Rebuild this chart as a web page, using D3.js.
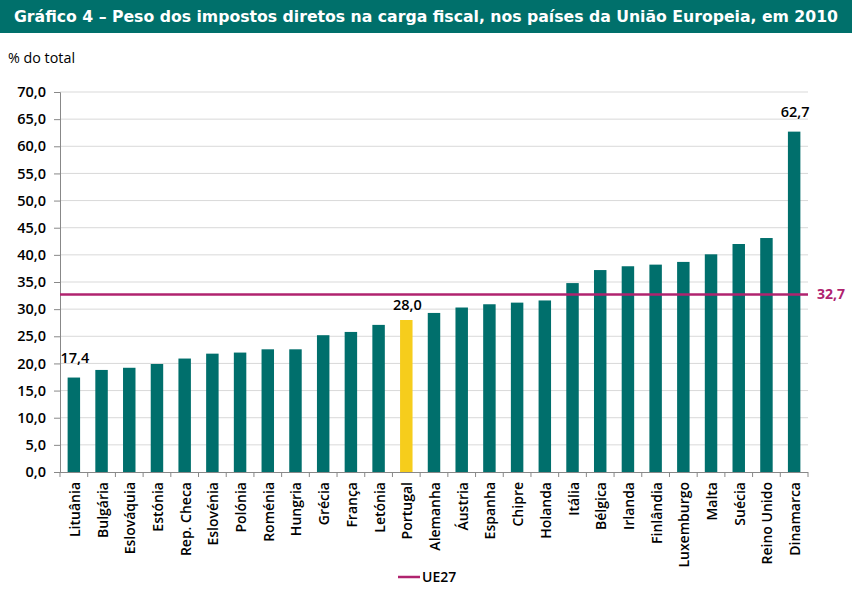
<!DOCTYPE html>
<html><head><meta charset="utf-8">
<script src="https://cdn.jsdelivr.net/npm/d3@7"></script>
<style>body{margin:0;background:#fff}svg{display:block}</style>
</head><body><svg id="c" width="852" height="604"></svg>
<script>
const countries = ["Lituânia","Bulgária","Eslováquia","Estónia","Rep. Checa","Eslovénia","Polónia","Roménia","Hungria","Grécia","França","Letónia","Portugal","Alemanha","Áustria","Espanha","Chipre","Holanda","Itália","Bélgica","Irlanda","Finlândia","Luxemburgo","Malta","Suécia","Reino Unido","Dinamarca"];
const values = [17.4,18.8,19.2,19.9,20.9,21.8,22.0,22.6,22.6,25.2,25.8,27.1,28.0,29.3,30.3,30.9,31.2,31.6,34.8,37.2,37.9,38.2,38.7,40.1,42.0,43.1,62.7];
const ue27 = 32.7;
const yTicks = [0,5,10,15,20,25,30,35,40,45,50,55,60,65,70];
const labelled = ["Lituânia","Portugal","Dinamarca"];
const title = "Gráfico 4 – Peso dos impostos diretos na carga fiscal, nos países da União Europeia, em 2010";

const svg = d3.select("#c");
const font = "'Open Sans', sans-serif";
const teal = "#006f6c", yellow = "#f6cd1c", mag = "#b0236f";
const L = 60, R = 808, T = 92, B = 472;
const fmt = v => d3.format(".1f")(v).replace(".",",");

svg.append("rect").attr("x",0).attr("y",0).attr("width",852).attr("height",33).attr("fill","#00706b");
svg.append("text").attr("x",426).attr("y",22).attr("text-anchor","middle").attr("fill","#fff")
  .attr("font-family","'DejaVu Sans Condensed','DejaVu Sans',sans-serif").attr("font-weight","bold").attr("font-size",16)
  .attr("textLength",824).attr("lengthAdjust","spacingAndGlyphs").text(title);
svg.append("text").attr("x",8).attr("y",63).attr("font-family",font).attr("font-size",14).attr("fill","#000")
  .attr("textLength",67).attr("lengthAdjust","spacingAndGlyphs").text("% do total");

const x = d3.scaleBand().domain(countries).range([L,R]).paddingInner(0.55).paddingOuter(0.275);
const y = d3.scaleLinear().domain([0,70]).range([B,T]);

// gridlines
svg.append("g").selectAll("line").data(yTicks.slice(1)).join("line")
  .attr("x1",L).attr("x2",R).attr("y1",d=>y(d)).attr("y2",d=>y(d)).attr("stroke","#d9d9d9").attr("stroke-width",1);

// y axis
const yAxis = svg.append("g").attr("transform",`translate(${L},0)`)
  .call(d3.axisLeft(y).tickValues(yTicks).tickSize(6).tickPadding(8).tickFormat(fmt));
yAxis.select(".domain").attr("stroke","#888");
yAxis.selectAll(".tick line").attr("stroke","#888");
yAxis.selectAll("text").attr("font-family",font).attr("font-size",14.5).attr("font-weight",600).attr("fill","#000");

// bars
svg.append("g").selectAll("rect").data(countries).join("rect")
  .attr("x",d=>x(d)).attr("width",x.bandwidth())
  .attr("y",(d,i)=>y(values[i])).attr("height",(d,i)=>B-y(values[i]))
  .attr("fill",d=>d==="Portugal"?yellow:teal);

// x axis
const step = x.step();
const xa = svg.append("g");
xa.append("line").attr("x1",L).attr("x2",R).attr("y1",B+0.5).attr("y2",B+0.5).attr("stroke","#888");
xa.selectAll("line.t").data(d3.range(countries.length+1)).join("line").attr("class","t")
  .attr("x1",i=>L+i*step).attr("x2",i=>L+i*step).attr("y1",B).attr("y2",B+5).attr("stroke","#888");
xa.selectAll("text").data(countries).join("text")
  .attr("transform",d=>`translate(${x(d)+x.bandwidth()/2+6},${B+10}) rotate(-90)`)
  .attr("text-anchor","end").attr("font-family",font).attr("font-size",14).attr("font-weight",600).attr("fill","#000").text(d=>d);

// UE27 line
svg.append("line").attr("x1",L).attr("x2",R).attr("y1",y(ue27)).attr("y2",y(ue27)).attr("stroke",mag).attr("stroke-width",2.5);
svg.append("text").attr("x",817).attr("y",y(ue27)+5).attr("font-family",font).attr("font-weight",700).attr("font-size",14).attr("fill",mag)
  .text(fmt(ue27));

// value labels
svg.append("g").selectAll("text").data(labelled).join("text")
  .attr("x",d=>x(d)+x.bandwidth()/2+1).attr("y",d=>y(values[countries.indexOf(d)])-(d==="Portugal"?10:15))
  .attr("text-anchor","middle").attr("font-family",font).attr("font-size",14.5).attr("font-weight",600).attr("fill","#000")
  .text(d=>fmt(values[countries.indexOf(d)]));

// legend
const lg = svg.append("g");
lg.append("line").attr("x1",398).attr("x2",420).attr("y1",577).attr("y2",577).attr("stroke",mag).attr("stroke-width",2.5);
lg.append("text").attr("x",422).attr("y",582).attr("font-family",font).attr("font-size",14).attr("font-weight",600).attr("fill","#000").text("UE27");
</script></body></html>
